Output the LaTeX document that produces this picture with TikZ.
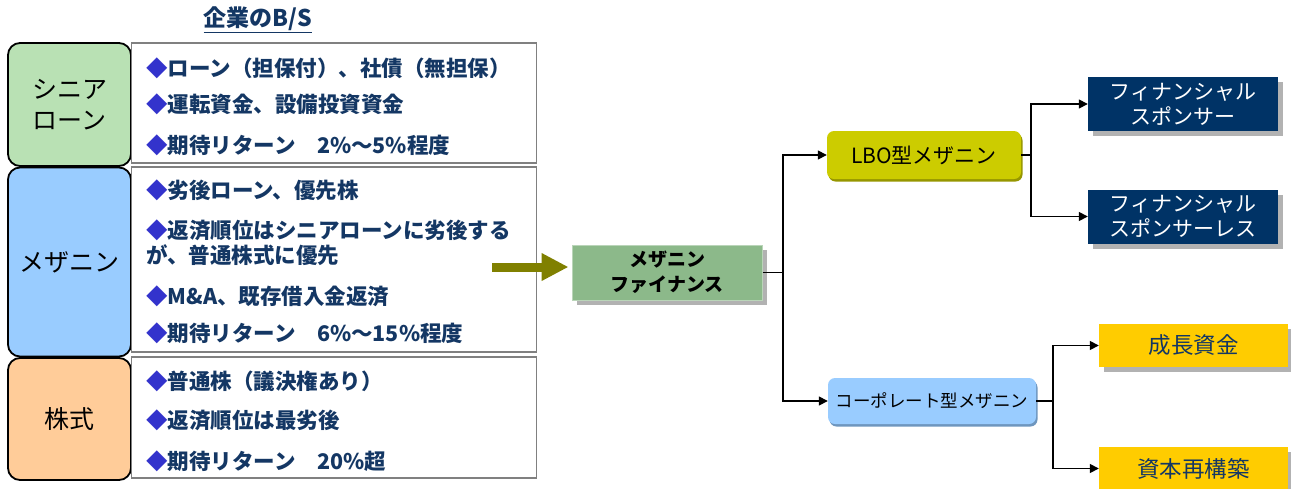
\documentclass[tikz,border=0pt]{standalone}
\usepackage{fontspec}
\setmainfont{Noto Sans CJK JP}
\usetikzlibrary{arrows.meta,shadows}
\definecolor{sgreen}{RGB}{185,225,180}
\definecolor{mblue}{RGB}{153,204,255}
\definecolor{speach}{RGB}{255,204,153}
\definecolor{ctext}{RGB}{20,55,100}
\definecolor{bulc}{RGB}{51,51,204}
\definecolor{olivearr}{RGB}{128,128,0}
\definecolor{mfgreen}{RGB}{140,185,138}
\definecolor{lboc}{RGB}{204,204,0}
\definecolor{lbodark}{RGB}{150,150,0}
\definecolor{corpdark}{RGB}{110,150,190}
\definecolor{navy}{RGB}{0,51,102}
\definecolor{gold}{RGB}{255,204,0}
\definecolor{shad}{RGB}{178,178,178}
\newcommand{\bul}{\textcolor{bulc}{◆}}
\begin{document}
\begin{tikzpicture}[x=1pt,y=-1pt,
  lbl/.style={draw=black,line width=1.8pt,rounded corners=12pt,inner sep=0pt,align=center,
    font=\fontsize{25}{31}\selectfont},
  cbox/.style={draw=gray,line width=1.8pt,fill=white,inner sep=0pt},
  ctxt/.style={anchor=west,inner sep=0pt,text=ctext,align=left,
    font=\bfseries\fontsize{21.5}{25}\selectfont},
  sbox/.style={inner sep=0pt,align=center,
    drop shadow={shadow xshift=5pt,shadow yshift=-5pt,fill=shad,opacity=1}},
  conn/.style={draw=black,line width=1.5pt},
  arr/.style={conn,-{Triangle[length=9pt,width=9pt]}}
]
\useasboundingbox (0,0) rectangle (1291,488);

% title
\node[inner sep=0pt,text=ctext,font=\bfseries\fontsize{23}{26}\selectfont] (title) at (258,20) {\underline{企業のB/S}};

% left label boxes
\node[lbl,fill=sgreen,minimum width=123pt,minimum height=123pt] (snr) at (69.5,104.5) {シニア\\ローン};
\node[lbl,fill=mblue,minimum width=123pt,minimum height=189pt] (mez) at (69.5,262) {メザニン};
\node[lbl,fill=speach,minimum width=123pt,minimum height=122pt] (stk) at (69.5,419) {株式};

% content boxes
\node[cbox,minimum width=405pt,minimum height=120pt] (c1) at (334,103) {};
\node[cbox,minimum width=405pt,minimum height=185pt] (c2) at (334,259.5) {};
\node[cbox,minimum width=405pt,minimum height=121pt] (c3) at (334,417.5) {};

\node[ctxt] (t11) at (146,68) {\bul ローン（担保付）、社債（無担保）};
\node[ctxt] (t12) at (146,104) {\bul 運転資金、設備投資資金};
\node[ctxt] (t13) at (146,145) {\bul 期待リターン\hspace{1em}2\%～5\%程度};

\node[ctxt] (t21) at (146,190) {\bul 劣後ローン、優先株};
\node[ctxt] (t22) at (146,242.5) {\bul 返済順位はシニアローンに劣後する\\が、普通株式に優先};
\node[ctxt] (t23) at (146,296) {\bul M\&A、既存借入金返済};
\node[ctxt] (t24) at (146,333) {\bul 期待リターン\hspace{1em}6\%～15\%程度};

\node[ctxt] (t31) at (146,381) {\bul 普通株（議決権あり）};
\node[ctxt] (t32) at (146,420) {\bul 返済順位は最劣後};
\node[ctxt] (t33) at (146,461) {\bul 期待リターン\hspace{1em}20\%超};

% mezzanine finance
\node[sbox,fill=mfgreen,draw=mfgreen!60!white,line width=1pt,minimum width=190pt,minimum height=55pt,
  font=\bfseries\fontsize{19}{25}\selectfont] (mf) at (667,272.5) {メザニン\\ファイナンス};

\coordinate (oa) at (492,267);
\draw[line width=9pt,draw=olivearr,-{Triangle[length=27pt,width=26pt]},shorten >=3pt] (oa) -- (oa -| mf.west);

% second level
\node[inner sep=0pt,fill=lboc,rounded corners=7pt,minimum width=194pt,minimum height=48pt,
  drop shadow={shadow xshift=1.5pt,shadow yshift=-2.5pt,fill=lbodark,opacity=1},
  font=\fontsize{21}{24}\selectfont] (lbo) at (924,155) {LBO型メザニン};
\node[inner sep=0pt,fill=mblue,rounded corners=7pt,minimum width=208pt,minimum height=46pt,
  drop shadow={shadow xshift=1.5pt,shadow yshift=-2.5pt,fill=corpdark,opacity=1},
  font=\fontsize{17.5}{22}\selectfont] (corp) at (932,401) {コーポレート型メザニン};

% third level
\node[sbox,fill=navy,text=white,minimum width=190pt,minimum height=54pt,
  font=\fontsize{21}{25}\selectfont] (fs) at (1183,104) {フィナンシャル\\スポンサー};
\node[sbox,fill=navy,text=white,minimum width=190pt,minimum height=54pt,
  font=\fontsize{21}{25}\selectfont] (fsl) at (1183,216.5) {フィナンシャル\\スポンサーレス};
\node[sbox,fill=gold,text=ctext,minimum width=189pt,minimum height=43pt,
  font=\fontsize{22.5}{26}\selectfont] (gr) at (1193.5,345.5) {成長資金};
\node[sbox,fill=gold,text=ctext,minimum width=189pt,minimum height=43pt,
  font=\fontsize{22.5}{26}\selectfont] (rc) at (1193.5,468.5) {資本再構築};

% connectors
\coordinate (j1) at (783,272.5);
\coordinate (j2) at (1031,155);
\coordinate (j3) at (1053,401);
\draw[conn] (mf.east) -- (j1);
\draw[arr] (j1) |- (lbo.west);
\draw[arr] (j1) |- (corp.west);
\draw[conn] (lbo.east) -- (j2);
\draw[arr] (j2) |- (fs.west);
\draw[arr] (j2) |- (fsl.west);
\draw[conn] (corp.east) -- (j3);
\draw[arr] (j3) |- (gr.west);
\draw[arr] (j3) |- (rc.west);
\end{tikzpicture}
\end{document}
